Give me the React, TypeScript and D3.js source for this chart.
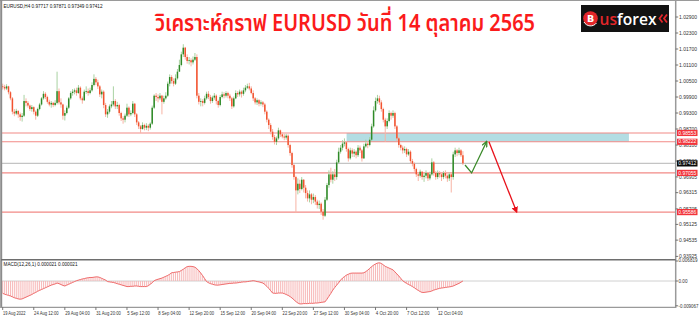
import React from 'react';
import * as d3 from 'd3';

const W = 699;
const H = 319;

// H4 candles, 19 Aug 2022 20:00 .. 14 Oct 2022 08:00 (open = previous close)
const firstOpen = 1.003;
const closes = [
  1.0028, 1.0022, 1.0030, 1.0008, 0.9985, 0.9935, 0.9928, 0.9938, 0.9925, 0.9915,
  0.9920, 0.9975, 0.9968, 0.9958, 0.9945, 0.9952, 0.9935, 0.9920, 0.9945, 0.9962,
  0.9985, 1.0002, 0.9990, 0.9972, 0.9962, 0.9968, 0.9960, 0.9968, 1.0012, 0.9970,
  0.9962, 0.9920, 0.9930, 0.9950, 0.9985, 1.0005, 1.0010, 1.0015, 1.0005, 1.0025,
  0.9985, 0.9978, 1.0010, 1.0012, 1.0005, 1.0015, 1.0035, 1.0058, 1.0045, 1.0030,
  1.0000, 1.0010, 0.9960, 0.9925, 0.9935, 0.9955, 0.9962, 0.9975, 0.9955, 0.9960,
  0.9930, 0.9910, 0.9905, 0.9920, 0.9950, 0.9925, 0.9930, 0.9965, 0.9925, 0.9895,
  0.9880, 0.9870, 0.9885, 0.9875, 0.9882, 0.9875, 0.9890, 0.9950, 0.9995, 0.9990,
  0.9985, 0.9995, 0.9972, 0.9985, 0.9995, 1.0040, 1.0065, 1.0050, 1.0040, 1.0060,
  1.0085, 1.0110, 1.0150, 1.0175, 1.0140, 1.0125, 1.0128, 1.0120, 1.0130, 1.0140,
  0.9995, 0.9972, 0.9975, 0.9968, 0.9985, 1.0002, 0.9990, 0.9975, 0.9988, 0.9995,
  0.9975, 0.9960, 0.9990, 1.0000, 0.9995, 1.0005, 0.9995, 0.9985, 0.9955, 0.9985,
  1.0005, 1.0000, 1.0010, 1.0002, 1.0015, 1.0025, 1.0030, 1.0022, 1.0005, 0.9985,
  0.9970, 0.9978, 0.9965, 0.9970, 0.9962, 0.9935, 0.9905, 0.9885, 0.9860, 0.9840,
  0.9822, 0.9835, 0.9865, 0.9850, 0.9842, 0.9838, 0.9845, 0.9810, 0.9780, 0.9735,
  0.9690, 0.9640, 0.9665, 0.9645, 0.9680, 0.9650, 0.9630, 0.9610, 0.9625, 0.9605,
  0.9615, 0.9598, 0.9585, 0.9590, 0.9560, 0.9545, 0.9605, 0.9660, 0.9700, 0.9680,
  0.9700, 0.9690, 0.9745, 0.9785, 0.9800, 0.9815, 0.9820, 0.9795, 0.9760, 0.9790,
  0.9778, 0.9785, 0.9772, 0.9800, 0.9790, 0.9760, 0.9805, 0.9815, 0.9810, 0.9830,
  0.9880, 0.9940, 0.9975, 0.9985, 0.9970, 0.9945, 0.9905, 0.9880, 0.9900, 0.9930,
  0.9920, 0.9930, 0.9880, 0.9835, 0.9810, 0.9800, 0.9790, 0.9795, 0.9775, 0.9785,
  0.9750, 0.9740, 0.9720, 0.9700, 0.9695, 0.9710, 0.9690, 0.9695, 0.9705, 0.9685,
  0.9700, 0.9745, 0.9705, 0.9690, 0.9705, 0.9700, 0.9690, 0.9705, 0.9695, 0.9685,
  0.9700, 0.9690, 0.9775, 0.9790, 0.9780, 0.9790, 0.97717, 0.97412,
];
const highs = [
  1.0040, 1.0036, 1.0038, 1.0032, 1.0012, 0.9990, 0.9945, 0.9946, 0.9940, 0.9932,
  0.9930, 0.9998, 0.9985, 0.9975, 0.9962, 0.9960, 0.9955, 0.9940, 0.9950, 0.9968,
  0.9990, 1.0012, 1.0008, 0.9995, 0.9980, 0.9975, 0.9972, 0.9978, 1.0085, 1.0022,
  0.9985, 0.9965, 0.9940, 0.9958, 0.9990, 1.0012, 1.0020, 1.0022, 1.0025, 1.0035,
  1.0030, 0.9992, 1.0018, 1.0030, 1.0022, 1.0025, 1.0045, 1.0075, 1.0065, 1.0055,
  1.0035, 1.0018, 1.0015, 0.9968, 0.9945, 0.9962, 0.9975, 1.0030, 0.9982, 0.9972,
  0.9965, 0.9935, 0.9918, 0.9928, 0.9965, 0.9955, 0.9940, 0.9975, 0.9968, 0.9930,
  0.9900, 0.9885, 0.9895, 0.9890, 0.9892, 0.9888, 0.9895, 0.9958, 1.0000, 1.0005,
  1.0000, 1.0005, 0.9998, 0.9995, 1.0008, 1.0048, 1.0075, 1.0072, 1.0060, 1.0075,
  1.0095, 1.0130, 1.0160, 1.0188, 1.0178, 1.0150, 1.0140, 1.0135, 1.0142, 1.0155,
  1.0150, 1.0005, 0.9985, 0.9982, 0.9995, 1.0010, 1.0012, 0.9998, 0.9995, 1.0005,
  1.0000, 0.9980, 0.9998, 1.0010, 1.0008, 1.0012, 1.0010, 1.0002, 0.9990, 0.9992,
  1.0015, 1.0012, 1.0018, 1.0015, 1.0025, 1.0035, 1.0040, 1.0043, 1.0030, 1.0015,
  0.9990, 0.9985, 0.9982, 0.9978, 0.9975, 0.9968, 0.9940, 0.9910, 0.9892, 0.9870,
  0.9848, 0.9842, 0.9875, 0.9868, 0.9858, 0.9852, 0.9852, 0.9850, 0.9815, 0.9785,
  0.9740, 0.9695, 0.9685, 0.9680, 0.9690, 0.9682, 0.9660, 0.9640, 0.9640, 0.9630,
  0.9628, 0.9622, 0.9605, 0.9602, 0.9595, 0.9570, 0.9615, 0.9668, 0.9715, 0.9725,
  0.9712, 0.9720, 0.9755, 0.9800, 0.9810, 0.9828, 0.9835, 0.9825, 0.9800, 0.9800,
  0.9798, 0.9795, 0.9790, 0.9810, 0.9808, 0.9795, 0.9815, 0.9830, 0.9825, 0.9840,
  0.9890, 0.9955, 0.9988, 0.9998, 0.9995, 0.9978, 0.9950, 0.9912, 0.9910, 0.9940,
  0.9935, 0.9940, 0.9935, 0.9885, 0.9840, 0.9815, 0.9808, 0.9805, 0.9800, 0.9795,
  0.9790, 0.9758, 0.9745, 0.9725, 0.9708, 0.9718, 0.9712, 0.9705, 0.9715, 0.9708,
  0.9710, 0.9760, 0.9750, 0.9712, 0.9715, 0.9712, 0.9705, 0.9712, 0.9715, 0.9700,
  0.9708, 0.9705, 0.9785, 0.9800, 0.9795, 0.9800, 0.9795, 0.97871,
];
const lows = [
  1.0018, 1.0015, 1.0016, 1.0000, 0.9978, 0.9925, 0.9918, 0.9922, 0.9912, 0.9901,
  0.9898, 0.9915, 0.9955, 0.9950, 0.9938, 0.9935, 0.9925, 0.9905, 0.9915, 0.9940,
  0.9958, 0.9980, 0.9982, 0.9965, 0.9955, 0.9950, 0.9952, 0.9955, 0.9962, 0.9962,
  0.9950, 0.9905, 0.9902, 0.9925, 0.9945, 0.9980, 0.9995, 1.0000, 0.9995, 1.0002,
  0.9978, 0.9965, 0.9975, 1.0002, 0.9995, 1.0000, 1.0010, 1.0030, 1.0035, 1.0020,
  0.9990, 0.9985, 0.9948, 0.9915, 0.9912, 0.9928, 0.9948, 0.9955, 0.9945, 0.9945,
  0.9920, 0.9900, 0.9890, 0.9895, 0.9915, 0.9915, 0.9918, 0.9925, 0.9915, 0.9885,
  0.9870, 0.9855, 0.9868, 0.9865, 0.9866, 0.9862, 0.9868, 0.9885, 0.9945, 0.9975,
  0.9970, 0.9978, 0.9925, 0.9965, 0.9980, 0.9990, 1.0030, 1.0040, 1.0030, 1.0035,
  1.0055, 1.0085, 1.0105, 1.0140, 1.0130, 1.0115, 1.0112, 1.0105, 1.0112, 1.0125,
  0.9985, 0.9962, 0.9955, 0.9955, 0.9962, 0.9980, 0.9982, 0.9965, 0.9968, 0.9980,
  0.9962, 0.9950, 0.9955, 0.9985, 0.9985, 0.9988, 0.9985, 0.9975, 0.9945, 0.9950,
  0.9982, 0.9990, 0.9992, 0.9988, 0.9995, 1.0008, 1.0020, 1.0015, 1.0000, 0.9975,
  0.9962, 0.9960, 0.9955, 0.9958, 0.9952, 0.9925, 0.9895, 0.9870, 0.9850, 0.9830,
  0.9812, 0.9810, 0.9830, 0.9840, 0.9835, 0.9828, 0.9830, 0.9800, 0.9770, 0.9725,
  0.9680, 0.9555, 0.9625, 0.9630, 0.9640, 0.9632, 0.9610, 0.9598, 0.9595, 0.9588,
  0.9592, 0.9585, 0.9572, 0.9570, 0.9548, 0.9530, 0.9540, 0.9600, 0.9650, 0.9670,
  0.9665, 0.9675, 0.9680, 0.9740, 0.9778, 0.9790, 0.9805, 0.9785, 0.9748, 0.9755,
  0.9765, 0.9765, 0.9760, 0.9765, 0.9780, 0.9748, 0.9758, 0.9800, 0.9798, 0.9805,
  0.9825, 0.9875, 0.9935, 0.9965, 0.9960, 0.9935, 0.9895, 0.9822, 0.9870, 0.9895,
  0.9905, 0.9912, 0.9870, 0.9825, 0.9800, 0.9790, 0.9778, 0.9780, 0.9765, 0.9770,
  0.9740, 0.9730, 0.9710, 0.9690, 0.9675, 0.9688, 0.9680, 0.9672, 0.9685, 0.9675,
  0.9678, 0.9695, 0.9695, 0.9680, 0.9682, 0.9688, 0.9675, 0.9682, 0.9685, 0.9672,
  0.9675, 0.9632, 0.9680, 0.9765, 0.9768, 0.9772, 0.9765, 0.97349,
];

// MACD(12,26,1) main value per bar
const macd = [
  -0.0042, -0.0045, -0.0047, -0.0049, -0.0051, -0.0054, -0.0057, -0.0059, -0.0061, -0.0062,
  -0.0061, -0.0058, -0.0055, -0.0052, -0.0049, -0.0046, -0.0042,
  -0.0039, -0.0035, -0.0032, -0.0029, -0.0026, -0.0023, -0.0020,
  -0.0017, -0.0014, -0.0012, -0.0010, -0.0007,
  -0.0009, -0.0012, -0.0015, -0.0017,
  -0.0014, -0.0011, -0.0008, -0.0005, -0.0002, 0.0001,
  0.0003, 0.0005, 0.0007, 0.0008, 0.0010,
  0.0011, 0.0012, 0.0012, 0.0013, 0.0014, 0.0014,
  0.0012, 0.0009, 0.0006, 0.0003, -0.0002,
  -0.0003, -0.0004, -0.0005, -0.0007,
  -0.0009, -0.0011, -0.0013, -0.0015, -0.0017, -0.0019,
  -0.0019, -0.0018, -0.0018, -0.0017, -0.0017,
  -0.0018, -0.0019, -0.0019, -0.0019, -0.0019,
  -0.0016, -0.0011, -0.0006, 0.0001,
  0.0004, 0.0006, 0.0008, 0.0010,
  0.0013, 0.0016, 0.0019, 0.0023, 0.0028,
  0.0029, 0.0030, 0.0031, 0.0032,
  0.0036, 0.0040, 0.0045, 0.0049,
  0.0050, 0.0050, 0.0049,
  0.0047, 0.0042, 0.0035, 0.0027,
  0.0018, 0.0008, -0.0002,
  -0.0006, -0.0009, -0.0011, -0.0013, -0.0014,
  -0.0014, -0.0013, -0.0012, -0.0011, -0.0010, -0.0009, -0.0008, -0.0008, -0.0007,
  -0.0007, -0.0006, -0.0005, -0.0004, -0.0003, -0.0003, -0.0002,
  -0.0001, 0.0000, 0.0001,
  0.0000, -0.0002, -0.0003, -0.0005, -0.0007,
  -0.0012, -0.0018, -0.0025, -0.0033, -0.0041,
  -0.0042, -0.0042, -0.0041, -0.0041, -0.0041,
  -0.0043, -0.0046, -0.0049, -0.0053, -0.0058,
  -0.0064, -0.0070, -0.0075, -0.0078,
  -0.0078, -0.0077, -0.0077, -0.0077, -0.0076, -0.0076, -0.0076,
  -0.0075, -0.0075, -0.0074, -0.0073, -0.0072, -0.0071,
  -0.0062, -0.0052, -0.0042, -0.0031,
  -0.0022, -0.0014, -0.0006, 0.0003,
  0.0010, 0.0015, 0.0020, 0.0023, 0.0026,
  0.0027, 0.0027, 0.0027, 0.0027, 0.0027, 0.0027, 0.0028,
  0.0032, 0.0037, 0.0043,
  0.0049, 0.0054, 0.0058, 0.0061, 0.0062,
  0.0060, 0.0055, 0.0050, 0.0047,
  0.0044, 0.0041, 0.0038,
  0.0031, 0.0024, 0.0017, 0.0009, 0.0001,
  -0.0004, -0.0008, -0.0012, -0.0015, -0.0019,
  -0.0023, -0.0028, -0.0032, -0.0036, -0.0039,
  -0.0039, -0.0038, -0.0037, -0.0036,
  -0.0034, -0.0031, -0.0029, -0.0027, -0.0025,
  -0.0024, -0.0023, -0.0022, -0.0021, -0.0020, -0.0019, -0.0017,
  -0.0014, -0.0011, -0.0008, -0.0004, 0.0000,
];

const timeLabels = [
  '19 Aug 2022', '24 Aug 12:00', '29 Aug 04:00', '31 Aug 20:00', '5 Sep 12:00',
  '8 Sep 04:00', '12 Sep 20:00', '15 Sep 12:00', '20 Sep 04:00', '22 Sep 20:00',
  '27 Sep 12:00', '30 Sep 04:00', '4 Oct 20:00', '7 Oct 12:00', '12 Oct 04:00',
];
const timeLabelBars = [0, 16, 32, 48, 64, 80, 96, 112, 128, 144, 160, 176, 192, 208, 224];

const priceTicks = [
  '1.02900', '1.02300', '1.01700', '1.01100', '1.00500', '0.99900', '0.99300', '0.98700',
  '0.98100', '0.97500', '0.96905', '0.96315', '0.95705', '0.95125', '0.94535', '0.93925',
];

const levelPrices = [0.98553, 0.98222, 0.97055, 0.95586];
const levelLabels = ['0.98553', '0.98222', '0.97055', '0.95586'];
const lastPrice = 0.97412;
const lastLabel = '0.97412';

const zoneBars = [177.1, 322.5];
const zonePrices = [0.98222, 0.98553];

const upPathBars = [238.1, 241.5, 249.2];
const upPathPrices = [0.9735, 0.97055, 0.98222];
const downArrowBars = [250.4, 264.7];
const downArrowPrices = [0.98222, 0.95586];

const macdAxisValues = [0.006819, 0, -0.009067];
const macdAxisLabels = ['0.006819', '0.00', '-0.009067'];

const headerText = 'EURUSD,H4  0.97717 0.97871 0.97349 0.97412';
const macdText = 'MACD(12,26,1) 0.000021 0.000021';
const title = 'วิเคราะห์กราฟ EURUSD วันที่ 14 ตุลาคม 2565';

const AXIS_X = 675.7;
const SMALL_FONT = '"Liberation Sans", Arial, sans-serif';

export default function App() {
  const x = d3.scaleLinear().domain([0, closes.length - 1]).range([2.7, 462.9]);
  const y = d3.scaleLinear().domain([0.93925, 1.029]).range([256.4, 17]);
  const ym = d3.scaleLinear().domain([-0.009067, 0.006819]).range([307.6, 261]);

  const candles = closes.map((c, i) => {
    const o = i === 0 ? firstOpen : closes[i - 1];
    const h = Math.max(highs[i], o, c);
    const l = Math.min(lows[i], o, c);
    return { i, o, h, l, c, up: c >= o };
  });

  const macdLine = d3
    .line<number>()
    .x((_, i) => x(i))
    .y((v) => ym(v))(macd) as string;

  const upPath = d3
    .line<number>()
    .x((b) => x(b))
    .y((_, k) => y(upPathPrices[k]))(upPathBars) as string;
  const downPath = d3
    .line<number>()
    .x((b) => x(b))
    .y((_, k) => y(downArrowPrices[k]))(downArrowBars) as string;

  return (
    <svg
      width={W}
      height={H}
      style={{ position: 'absolute', left: 0, top: 0, background: '#fff' }}
      fontFamily={SMALL_FONT}
    >
      <defs>
        <marker id="arrowG" viewBox="0 0 10 10" refX="8" refY="5" markerWidth="5" markerHeight="5" orient="auto">
          <path d="M0,1 L9,5 L0,9" fill="none" stroke="#3b8a2a" strokeWidth="2" />
        </marker>
        <marker id="arrowR" viewBox="0 0 10 10" refX="8" refY="5" markerWidth="5" markerHeight="5" orient="auto">
          <path d="M0,0 L10,5 L0,10 z" fill="#e8101a" />
        </marker>
        <clipPath id="mainClip">
          <rect x={2} y={1} width={AXIS_X - 2} height={258.5} />
        </clipPath>
      </defs>

      <rect x={0} y={0} width={W} height={H} fill="#fff" />

      {/* zone */}
      <rect
        x={x(zoneBars[0])}
        y={y(zonePrices[1])}
        width={x(zoneBars[1]) - x(zoneBars[0])}
        height={y(zonePrices[0]) - y(zonePrices[1])}
        fill="#b3dde3"
      />

      {/* level lines */}
      {levelPrices.map((p, k) => (
        <line key={k} x1={2} x2={AXIS_X} y1={y(p)} y2={y(p)} stroke="#f28a86" strokeWidth={1.1} />
      ))}
      <line x1={2} x2={AXIS_X} y1={y(lastPrice)} y2={y(lastPrice)} stroke="#c4c4c4" strokeWidth={1.3} />

      {/* candles */}
      <g clipPath="url(#mainClip)">
        {candles.map((d) => (
          <g key={d.i}>
            <line
              x1={x(d.i)}
              x2={x(d.i)}
              y1={y(d.h)}
              y2={y(d.l)}
              stroke={d.up ? '#a9d2a2' : '#f7b3a4'}
              strokeWidth={1}
            />
            <rect
              x={x(d.i) - 0.75}
              width={1.5}
              y={y(Math.max(d.o, d.c))}
              height={Math.max(0.8, y(Math.min(d.o, d.c)) - y(Math.max(d.o, d.c)))}
              fill={d.up ? '#2f8a28' : '#f2532f'}
            />
          </g>
        ))}
      </g>

      {/* forecast */}
      <path d={upPath} fill="none" stroke="#3b8a2a" strokeWidth={1.3} markerEnd="url(#arrowG)" />
      <path d={downPath} fill="none" stroke="#e8101a" strokeWidth={1.3} markerEnd="url(#arrowR)" />

      {/* MACD pane */}
      <line x1={2} x2={AXIS_X} y1={ym(0)} y2={ym(0)} stroke="#d0d0d0" strokeWidth={1} />
      {macd.map((v, i) => (
        <line key={i} x1={x(i)} x2={x(i)} y1={ym(0)} y2={ym(v)} stroke="#f6b1b1" strokeWidth={0.9} />
      ))}
      <path d={macdLine} fill="none" stroke="#ef6a6a" strokeWidth={1} />

      {/* frame */}
      <line x1={0} x2={W} y1={0.5} y2={0.5} stroke="#9a9a9a" strokeWidth={1.2} />
      <line x1={1.2} x2={1.2} y1={0} y2={308} stroke="#8c8c8c" strokeWidth={2} />
      <line x1={AXIS_X} x2={AXIS_X} y1={0} y2={308} stroke="#9a9a9a" strokeWidth={1.5} />
      <line x1={1} x2={AXIS_X} y1={259.8} y2={259.8} stroke="#6e6e6e" strokeWidth={1.6} />
      <line x1={1} x2={AXIS_X} y1={307.4} y2={307.4} stroke="#9a9a9a" strokeWidth={1.3} />

      {/* header texts */}
      <text x={3.5} y={7.8} fontSize={4.6} fill="#111" textLength={99} lengthAdjust="spacingAndGlyphs">{headerText}</text>
      <text x={3.5} y={266.2} fontSize={4.6} fill="#111" textLength={74} lengthAdjust="spacingAndGlyphs">{macdText}</text>

      {/* price axis */}
      {priceTicks.map((t) => (
        <g key={t}>
          <line x1={AXIS_X} x2={AXIS_X + 2.5} y1={y(+t)} y2={y(+t)} stroke="#555" strokeWidth={0.8} />
          <text x={679} y={y(+t) + 1.7} fontSize={4.8} fill="#333" textLength={18} lengthAdjust="spacingAndGlyphs">{t}</text>
        </g>
      ))}
      {levelPrices.map((p, k) => (
        <g key={k}>
          <rect x={677} y={y(p) - 3.1} width={20.5} height={6.2} fill="#f2333a" />
          <text x={678.3} y={y(p) + 1.7} fontSize={4.8} fill="#fff" textLength={18} lengthAdjust="spacingAndGlyphs">{levelLabels[k]}</text>
        </g>
      ))}
      <rect x={677} y={y(lastPrice) - 3.1} width={20.5} height={6.2} fill="#0b0b0b" />
      <text x={678.3} y={y(lastPrice) + 1.7} fontSize={4.8} fill="#fff" textLength={18} lengthAdjust="spacingAndGlyphs">{lastLabel}</text>

      {/* macd axis */}
      {macdAxisValues.map((v, k) => {
        const ty = ym(v) - (k === 2 ? 1.8 : 0);
        const lens = [19, 9, 20];
        return (
          <g key={k}>
            <line x1={AXIS_X} x2={AXIS_X + 2.5} y1={ty} y2={ty} stroke="#555" strokeWidth={0.8} />
            <text x={678.5} y={ty + (k === 0 ? 1.2 : 1.7)} fontSize={4.6} fill="#333" textLength={lens[k]} lengthAdjust="spacingAndGlyphs">{macdAxisLabels[k]}</text>
          </g>
        );
      })}

      {/* time axis */}
      {timeLabelBars.map((b, k) => (
        <g key={k}>
          <line x1={x(b)} x2={x(b)} y1={307.4} y2={310} stroke="#555" strokeWidth={0.8} />
          <text x={x(b) + 0.3} y={314.8} fontSize={4.6} fill="#333" textLength={timeLabels[k].length * 2.05} lengthAdjust="spacingAndGlyphs">{timeLabels[k]}</text>
        </g>
      ))}

      {/* title */}
      <text
        x={155}
        y={30.5}
        fontSize={23}
        fontWeight={600}
        fill="#fb1b1b"
        textLength={380}
        lengthAdjust="spacingAndGlyphs"
        fontFamily='"Noto Sans Thai", "Noto Sans", "DejaVu Sans", sans-serif'
      >
        {title}
      </text>

      {/* logo */}
      <g>
        <rect x={581} y={5} width={88} height={27} fill="#121212" />
        <circle cx={590.5} cy={18.5} r={7.3} fill="#e3262a" />
        <path d="M584,22 A7.5,7.5 0 0 0 596.5,23" fill="none" stroke="#fff" strokeWidth={1} />
        <text x={590.5} y={22} textAnchor="middle" fontSize={9.5} fontWeight={700} fill="#fff" fontFamily='"DejaVu Sans", sans-serif'>B</text>
        <text x={599.5} y={24.5} fontSize={15.5} fontWeight={600} textLength={57} lengthAdjust="spacingAndGlyphs" fontFamily='"Open Sans", "Noto Sans", sans-serif'>
          <tspan fill="#e3262a">us</tspan>
          <tspan fill="#ffffff">forex</tspan>
        </text>
        <path d="M662.5,14.5 L659.5,18.5 L662.5,22.5 M667,14.5 L664,18.5 L667,22.5" fill="none" stroke="#e3262a" strokeWidth={1.8} />
      </g>
    </svg>
  );
}
